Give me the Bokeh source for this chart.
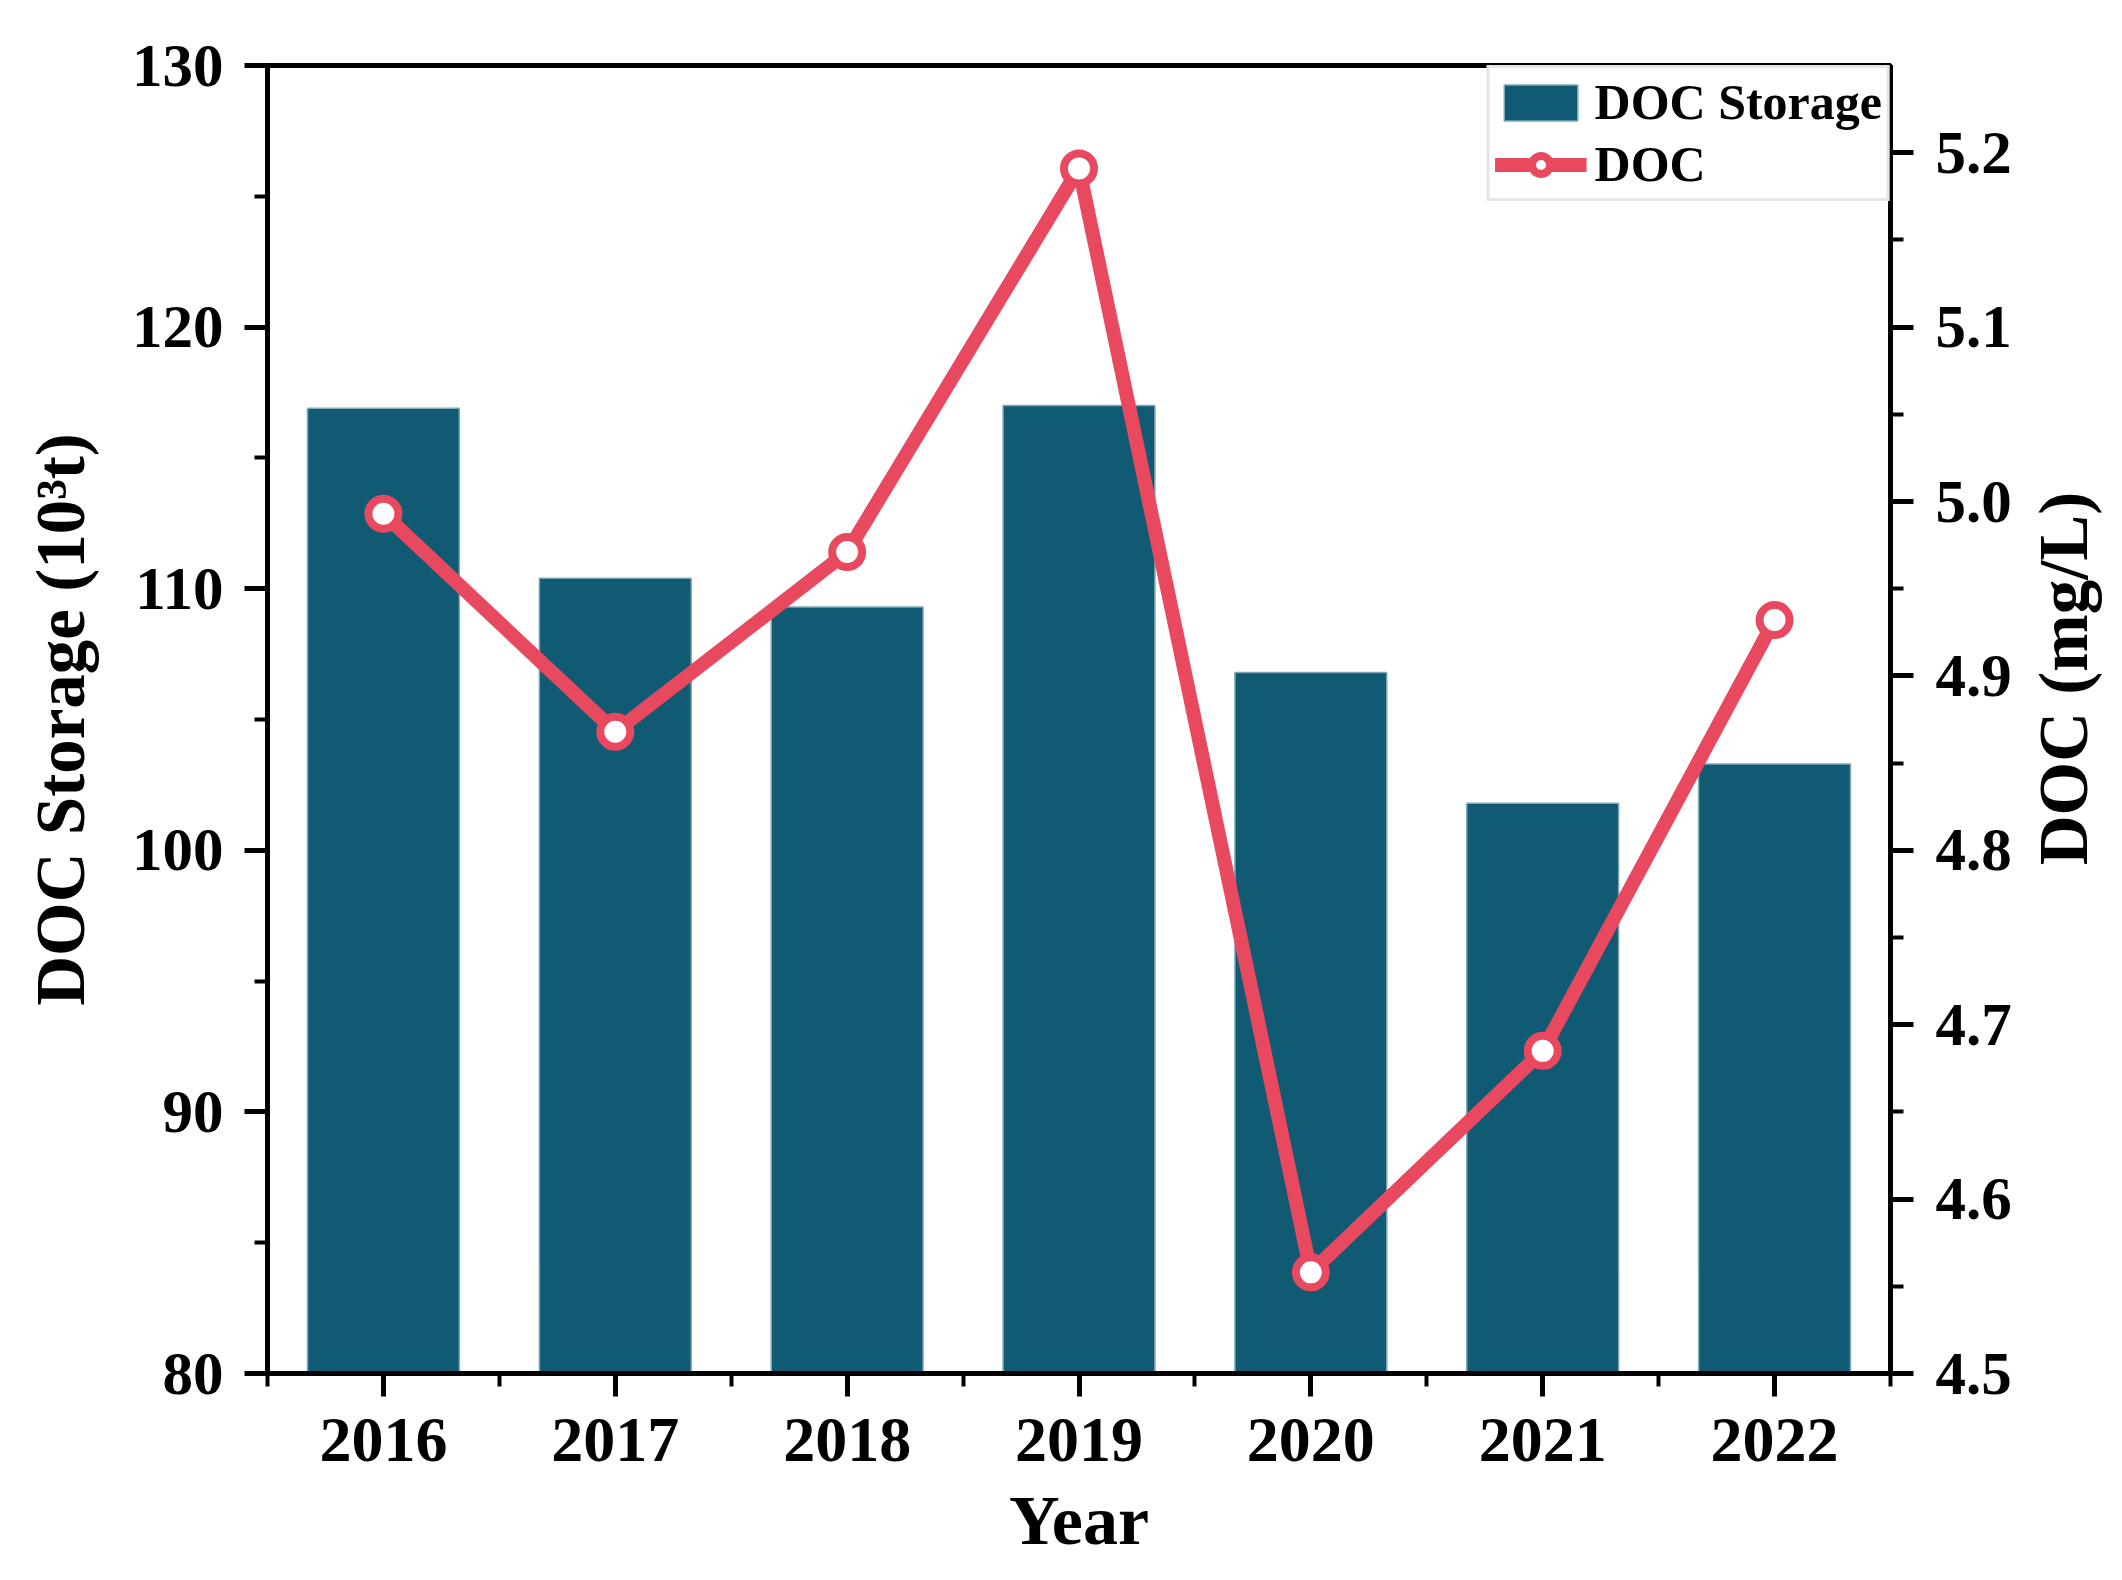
import math
from bokeh.plotting import figure
from bokeh.layouts import row
from bokeh.models import (Range1d, LinearAxis, FixedTicker, Legend, LegendItem,
                          ColumnDataSource, NumeralTickFormatter)
from bokeh.core.properties import value
from bokeh.embed import file_html
from bokeh.resources import INLINE

years = ["2016", "2017", "2018", "2019", "2020", "2021", "2022"]
doc_storage = [116.9, 110.4, 109.3, 117.0, 106.8, 101.8, 103.3]
doc_conc = [4.993, 4.868, 4.971, 5.191, 4.558, 4.685, 4.932]
left_ticks = [80, 90, 100, 110, 120, 130]
left_minor = [85, 95, 105, 115, 125]
right_ticks = [4.5, 4.6, 4.7, 4.8, 4.9, 5.0, 5.1, 5.2]
right_minor = [4.55, 4.65, 4.75, 4.85, 4.95, 5.05, 5.15]
x_title = "Year"
left_title = "DOC Storage (10\u00b3t)"
right_title = "DOC (mg/L)"

idx = list(range(len(years)))
src = ColumnDataSource(dict(x=idx, storage=doc_storage, doc=doc_conc))

FONT = "Liberation Serif"
BAR = "#105A73"
RED = "#E8495E"

MAIN_W, H = 2020, 1564
SIDE_W = 86

p = figure(width=MAIN_W, height=H, output_backend="svg", toolbar_location=None,
           title=None, x_range=Range1d(-0.5, 6.5), y_range=Range1d(80, 130),
           min_border_left=267, min_border_top=65, min_border_right=130,
           min_border_bottom=191)
p.extra_y_ranges = {"doc": Range1d(4.5, 5.25)}

p.xgrid.visible = False
p.ygrid.visible = False
p.outline_line_color = "black"
p.outline_line_width = 5
p.background_fill_color = "white"
p.border_fill_color = "white"

bars = p.vbar(x="x", top="storage", bottom=80, width=0.655, source=src,
              fill_color=BAR, line_color="#7FA9BA", line_width=1.5)
line = p.line(x="x", y="doc", source=src, y_range_name="doc",
              line_color=RED, line_width=14)
pts = p.scatter(x="x", y="doc", source=src, y_range_name="doc", size=30,
                marker="circle", fill_color="white", line_color=RED, line_width=8)

right = LinearAxis(y_range_name="doc")
p.add_layout(right, "right")

def style(ax, major, minor):
    ax.ticker = FixedTicker(ticks=major, minor_ticks=minor)
    ax.axis_line_width = 5
    ax.axis_line_color = "black"
    ax.major_tick_line_width = 5
    ax.minor_tick_line_width = 4
    ax.major_tick_in = 0
    ax.minor_tick_in = 0
    ax.major_tick_out = 23
    ax.minor_tick_out = 13
    ax.major_label_text_font = FONT
    ax.major_label_text_font_style = "bold"
    ax.major_label_text_color = "black"
    ax.axis_label_text_font = FONT
    ax.axis_label_text_font_style = "bold"
    ax.axis_label_text_color = "black"

xa = p.xaxis[0]
style(xa, idx, [i + 0.5 for i in range(-1, 7)])
xa.major_label_overrides = {i: y for i, y in enumerate(years)}
xa.major_label_text_font_size = "64px"
xa.major_label_standoff = 22
xa.axis_label = x_title
xa.axis_label_text_font_size = "70px"
xa.axis_label_standoff = 18

ya = p.yaxis[0]
style(ya, left_ticks, left_minor)
ya.major_label_text_font_size = "61px"
ya.major_label_standoff = 21
ya.axis_label = left_title
ya.axis_label_text_font_size = "69px"
ya.axis_label_standoff = 30

style(right, right_ticks, right_minor)
right.formatter = NumeralTickFormatter(format="0.0")
right.major_label_text_font_size = "61px"
right.major_label_standoff = 22

legend = Legend(items=[LegendItem(label="DOC Storage", renderers=[bars]),
                       LegendItem(label="DOC", renderers=[line, pts])],
                location="top_right")
legend.label_text_font = FONT
legend.label_text_font_style = "bold"
legend.label_text_font_size = "50px"
legend.label_text_color = "black"
legend.glyph_width = 92
legend.glyph_height = 45
legend.label_height = 45
legend.label_standoff = 8
legend.spacing = 4
legend.padding = 5
legend.margin = 0
legend.border_line_color = "#CCCCCC"
legend.border_line_width = 3
legend.background_fill_alpha = 1.0
p.add_layout(legend)

# right-hand title strip (text reads bottom-to-top like the reference)
p2 = figure(width=SIDE_W, height=H, output_backend="svg", toolbar_location=None,
            title=None, x_range=Range1d(0, SIDE_W), y_range=Range1d(0, H),
            x_axis_type=None, y_axis_type=None, min_border=0)
p2.outline_line_color = None
p2.grid.visible = False
p2.text(x=[43], y=[831], text=[right_title], angle=math.pi / 2,
        text_align="center", text_baseline="middle", text_font=value(FONT),
        text_font_style="bold", text_font_size="69px", text_color="black")

layout = row(p, p2, spacing=0)

open("out.html", "w").write(file_html(layout, INLINE))
